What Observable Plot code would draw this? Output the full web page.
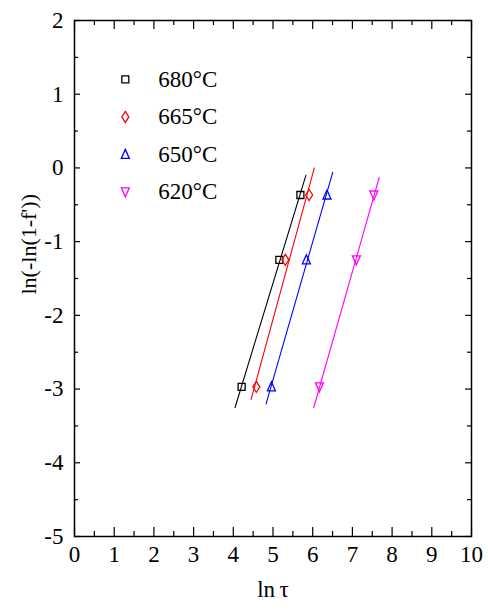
<!DOCTYPE html>
<html>
<head>
<meta charset="utf-8">
<script src="https://cdn.jsdelivr.net/npm/d3@7"></script>
<script src="https://cdn.jsdelivr.net/npm/@observablehq/plot@0.6"></script>
<style>
  body { margin: 0; background: #fff; }
  #chart svg { display: block; }
  #chart svg text { font-family: "Liberation Serif", "Times New Roman", serif; }
</style>
</head>
<body>
<div id="chart"></div>
<script>
// Avrami plot: ln(-ln(1-f)) against ln(tau) for four annealing temperatures
const temperatures = ["680°C", "665°C", "650°C", "620°C"];
const colors = ["#000000", "#ff0000", "#0000ff", "#ff00ff"];

// ordinate of each measured point (transformed fraction f = 0.05, 0.25, 0.5)
const yValues = [-2.97, -1.246, -0.367];
// ln(tau) of each measured point, per temperature
const lnTau680 = [4.21, 5.16, 5.69];
const lnTau665 = [4.58, 5.31, 5.91];
const lnTau650 = [4.96, 5.84, 6.36];
const lnTau620 = [6.17, 7.10, 7.54];

// vertical extent of each fitted line
const fitYLow = [-3.25, -3.14, -3.20, -3.25];
const fitYHigh = [-0.10, 0.0, -0.06, -0.13];

const xTickLabels = ["0", "1", "2", "3", "4", "5", "6", "7", "8", "9", "10"];
const yTickLabels = ["-5", "-4", "-3", "-2", "-1", "0", "1", "2"];

const xLabel = "ln\u2009\u03c4";
const yLabel = "ln(-ln(1-f'))";

// ---------------------------------------------------------------------------
const lnTau = [lnTau680, lnTau665, lnTau650, lnTau620];
const points = temperatures.flatMap((t, s) =>
  lnTau[s].map((x, i) => ({series: s, x, y: yValues[i]})));

// least-squares line x = mx + (y - my) / slope for each series
const fits = temperatures.flatMap((t, s) => {
  const xs = lnTau[s], ys = yValues;
  const mx = d3.mean(xs), my = d3.mean(ys);
  const sxy = d3.sum(xs, (x, i) => (x - mx) * (ys[i] - my));
  const sxx = d3.sum(xs, x => (x - mx) ** 2);
  const slope = sxy / sxx;
  return [fitYLow[s], fitYHigh[s]].map(y => ({series: s, x: mx + (y - my) / slope, y}));
});

const xTicks = xTickLabels.map(Number);
const yTicks = yTickLabels.map(Number);
const xMinor = d3.range(0.5, 10, 1);
const yMinor = d3.range(-4.5, 2, 1);

// open marker shapes
const symbols = [
  {draw(c) { c.rect(-3.5, -3.5, 7, 7); }},
  {draw(c) { c.moveTo(0, -5.5); c.lineTo(3.5, 0); c.lineTo(0, 5.5); c.lineTo(-3.5, 0); c.closePath(); }},
  {draw(c) { c.moveTo(0, -5); c.lineTo(4, 4); c.lineTo(-4, 4); c.closePath(); }},
  {draw(c) { c.moveTo(0, 5); c.lineTo(4, -4); c.lineTo(-4, -4); c.closePath(); }}
];

const W = 488, H = 610;
const mL = 74, mR = 17, mT = 20, mB = 74;
const frameW = W - mL - mR, frameH = H - mT - mB;
const font = "Liberation Serif, Times New Roman, serif";

const marks = [
  // inward ticks on all four sides
  Plot.tickX(xTicks, {x: d => d, insetTop: frameH - 9, stroke: "#000", strokeWidth: 1.2}),
  Plot.tickX(xTicks, {x: d => d, insetBottom: frameH - 9, stroke: "#000", strokeWidth: 1.2}),
  Plot.tickX(xMinor, {x: d => d, insetTop: frameH - 5, stroke: "#000", strokeWidth: 1.2}),
  Plot.tickX(xMinor, {x: d => d, insetBottom: frameH - 5, stroke: "#000", strokeWidth: 1.2}),
  Plot.tickY(yTicks, {y: d => d, insetRight: frameW - 6, stroke: "#000", strokeWidth: 1.2}),
  Plot.tickY(yTicks, {y: d => d, insetLeft: frameW - 6, stroke: "#000", strokeWidth: 1.2}),
  Plot.tickY(yMinor, {y: d => d, insetRight: frameW - 4, stroke: "#000", strokeWidth: 1.2}),
  Plot.tickY(yMinor, {y: d => d, insetLeft: frameW - 4, stroke: "#000", strokeWidth: 1.2}),
  Plot.frame({stroke: "#000", strokeWidth: 1.5}),
  Plot.axisX({ticks: xTicks, tickFormat: (d, i) => xTickLabels[i], tickSize: 0, tickPadding: 9,
    fontSize: 23, fontFamily: font, fill: "#000", label: null, ariaLabel: "x-axis"}),
  Plot.axisY({ticks: yTicks, tickFormat: (d, i) => yTickLabels[i], tickSize: 0, tickPadding: 11,
    fontSize: 23, fontFamily: font, fill: "#000", label: null, ariaLabel: "y-axis"}),
  Plot.text([xLabel], {frameAnchor: "bottom", dy: 60, fontSize: 23, fontFamily: font, fill: "#000", ariaLabel: "x-label"}),
  Plot.text([yLabel], {frameAnchor: "left", rotate: -90, dx: -46, dy: 16, fontSize: 22, fontFamily: font, fill: "#000"}),
  // fitted lines
  Plot.line(fits, {x: "x", y: "y", z: "series", stroke: d => colors[d.series], strokeWidth: 1.1})
];

temperatures.forEach((t, s) => {
  marks.push(Plot.dot(points.filter(d => d.series === s),
    {x: "x", y: "y", symbol: symbols[s], stroke: colors[s], strokeWidth: 1.3, fill: "none"}));
  // legend entry
  marks.push(Plot.dot([t], {x: 1.28, y: 1.2 - 0.508 * s, symbol: symbols[s], stroke: colors[s], strokeWidth: 1.3, fill: "none"}));
  marks.push(Plot.text([t], {x: 1.28, y: 1.2 - 0.508 * s, dx: 33, textAnchor: "start", fontSize: 23,
    fontFamily: font, fill: "#000", ariaLabel: "legend"}));
});

const chart = Plot.plot({
  width: W, height: H,
  marginLeft: mL, marginRight: mR, marginTop: mT, marginBottom: mB,
  style: {fontFamily: font, background: "#fff", color: "#000"},
  x: {domain: [0, 10]},
  y: {domain: [-5, 2]},
  marks
});
document.getElementById("chart").append(chart);

// narrow the horizontal text to the condensed serif look of the figure
function squeeze(selector, k) {
  chart.querySelectorAll(selector).forEach(t => {
    const w = t.getComputedTextLength();
    t.setAttribute("textLength", (w * k).toFixed(1));
    t.setAttribute("lengthAdjust", "spacingAndGlyphs");
  });
}
squeeze('g[aria-label="x-axis"] text', 0.76);
squeeze('g[aria-label="y-axis"] text', 0.76);
squeeze('g[aria-label="x-label"] text', 0.76);
squeeze('g[aria-label="legend"] text', 0.9);
</script>
</body>
</html>
